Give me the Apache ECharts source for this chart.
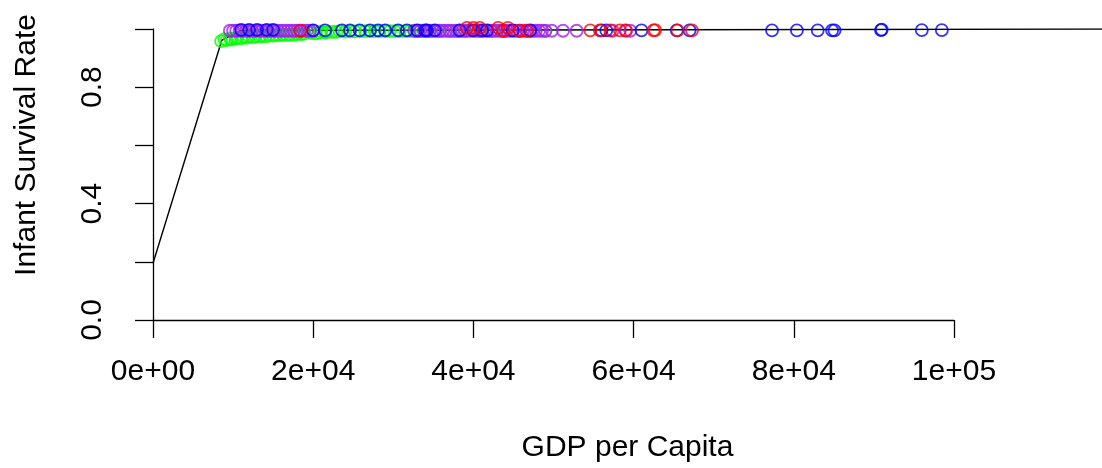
<!DOCTYPE html>
<html>
<head>
<meta charset="utf-8">
<script src="https://cdn.jsdelivr.net/npm/echarts@6/dist/echarts.min.js"></script>
<style>html,body{margin:0;padding:0;background:#fff}#c{width:1102px;height:468px}</style>
</head>
<body>
<div id="c"></div>
<script>
// ---- data (estimated) ----
var xTickLabels = ['0e+00', '2e+04', '4e+04', '6e+04', '8e+04', '1e+05'];
var yTickLabels = ['0.0', '', '0.4', '', '0.8', ''];

// fitted line
var curveX = [0, 8600, 11000, 118500];
var curveY = [0.195, 0.962, 0.995, 1.0];

// green group
var greenX = [8500, 8900, 9200, 9600, 9800, 10300, 10500, 11000, 11300, 11700, 12000, 12500, 12800, 13300, 13600, 14100, 14500, 15000, 15300, 15800, 16200, 16700, 17100, 17600, 18000, 18500, 18900, 19500, 19800, 20300, 20800, 21000, 21500, 21800, 22400, 22900, 23300, 24000, 24600, 25200, 25900, 26500, 27100, 27700, 28300, 29000, 29600, 30200, 30800, 31500, 32100, 32700, 33300, 34000, 34600, 35800, 37100, 38000, 39000, 40800, 42300, 43900, 45800, 47100, 49000];
var greenY = [0.958, 0.965, 0.962, 0.968, 0.964, 0.966, 0.970, 0.968, 0.972, 0.970, 0.974, 0.972, 0.975, 0.974, 0.976, 0.975, 0.978, 0.977, 0.979, 0.978, 0.980, 0.979, 0.981, 0.980, 0.983, 0.982, 0.984, 0.990, 0.986, 0.985, 0.987, 0.992, 0.988, 0.989, 0.990, 0.990, 0.993, 0.991, 0.992, 0.992, 0.993, 0.993, 0.993, 0.993, 0.993, 0.993, 0.993, 0.993, 0.993, 0.993, 0.993, 0.993, 0.993, 0.993, 0.993, 0.993, 0.993, 0.993, 0.993, 0.993, 0.993, 0.993, 0.993, 0.993, 0.993];

// purple group
var purpleX = [9600, 10000, 10400, 10800, 11200, 11600, 12000, 12400, 12800, 13200, 13600, 14000, 14400, 14800, 15200, 15600, 16000, 16400, 16800, 17200, 17600, 18000, 18400, 18800, 19200, 19600, 20000, 32600, 33000, 33400, 33800, 34200, 34600, 35000, 35400, 35800, 36200, 36600, 37000, 37400, 37800, 38200, 38600, 39000, 39400, 39800, 40200, 40600, 41000, 41400, 41800, 42200, 42600, 43000, 43400, 43800, 44200, 44600, 45000, 45400, 45800, 46200, 46600, 47000, 47400, 47800, 48200, 48600, 49000, 49800, 51200, 52900, 57400, 59100, 59600];
var purpleY = [0.994, 0.994, 0.994, 0.994, 0.994, 0.994, 0.994, 0.994, 0.994, 0.994, 0.994, 0.994, 0.994, 0.994, 0.994, 0.994, 0.994, 0.994, 0.994, 0.994, 0.994, 0.994, 0.994, 0.994, 0.994, 0.994, 0.994, 0.994, 0.994, 0.994, 0.994, 0.994, 0.994, 0.994, 0.994, 0.994, 0.994, 0.994, 0.994, 0.994, 0.994, 0.994, 0.994, 0.994, 0.994, 0.994, 0.994, 0.994, 0.994, 0.994, 0.994, 0.994, 0.994, 0.994, 0.994, 0.994, 0.994, 0.994, 0.994, 0.994, 0.994, 0.994, 0.994, 0.994, 0.994, 0.994, 0.994, 0.994, 0.994, 0.994, 0.994, 0.994, 0.994, 0.994, 0.994];

// blue group
var blueX = [11000, 12000, 13000, 14200, 15000, 20000, 21500, 23600, 24600, 25800, 27100, 28100, 29000, 30600, 31700, 33000, 34000, 34200, 35200, 38300, 40000, 41100, 41700, 44900, 47100, 56000, 56600, 61000, 65400, 67000, 77300, 80400, 83000, 84800, 85100, 90900, 91000, 96000, 98500];
var blueY = [0.997, 0.997, 0.997, 0.997, 0.997, 0.995, 0.995, 0.995, 0.995, 0.995, 0.995, 0.995, 0.995, 0.995, 0.995, 0.995, 0.995, 0.995, 0.995, 0.995, 0.995, 0.995, 0.995, 0.995, 0.995, 0.995, 0.995, 0.995, 0.995, 0.995, 0.995, 0.995, 0.995, 0.995, 0.995, 0.996, 0.998, 0.996, 0.996];

// red group
var redX = [18400, 39200, 40000, 40800, 43100, 43700, 44300, 45800, 46700, 54600, 55800, 57100, 58300, 59000, 62500, 62700, 65500, 67300];
var redY = [0.994, 1.004, 1.004, 1.004, 1.004, 0.994, 1.004, 0.994, 0.994, 0.995, 0.995, 0.995, 0.995, 0.995, 0.995, 0.996, 0.995, 0.995];

function zip(a, b) { return a.map(function (v, i) { return [v, b[i]]; }); }

var FONT = 'Liberation Sans';
var FS = 30;

function scatter(name, xs, ys, color) {
  return {
    name: name, type: 'scatter', xAxisIndex: 0, yAxisIndex: 0,
    data: zip(xs, ys), symbol: 'circle', symbolSize: 12, clip: false,
    itemStyle: { color: 'rgba(0,0,0,0)', borderColor: color, borderWidth: 1.8 },
    emphasis: { disabled: true }
  };
}

var chart = echarts.init(document.getElementById('c'), null, { renderer: 'canvas' });
chart.setOption({
  animation: false,
  backgroundColor: '#ffffff',
  grid: [
    { left: 153, right: 0, top: 29, bottom: 148 },
    { left: 153, width: 801, top: 29, bottom: 148 }
  ],
  xAxis: [
    {
      gridIndex: 0, type: 'value', min: 0, max: 118500,
      axisLine: { show: false }, axisTick: { show: false }, axisLabel: { show: false }, splitLine: { show: false },
      name: 'GDP per Capita', nameLocation: 'middle', nameGap: 113,
      nameTextStyle: { fontFamily: FONT, fontSize: FS, color: '#000' }
    },
    {
      gridIndex: 1, type: 'value', min: 0, max: 100000, interval: 20000,
      axisLine: { show: true, lineStyle: { color: '#000', width: 1.3 } },
      axisTick: { show: true, length: 18, lineStyle: { color: '#000', width: 1.3 } },
      axisLabel: {
        margin: 37, fontFamily: FONT, fontSize: FS, color: '#000',
        formatter: function (v) { return xTickLabels[Math.round(v / 20000)]; }
      },
      splitLine: { show: false }
    }
  ],
  yAxis: [
    {
      gridIndex: 0, type: 'value', min: 0, max: 1, interval: 0.2,
      axisLine: { show: true, lineStyle: { color: '#000', width: 1.3 } },
      axisTick: { show: true, length: 18, lineStyle: { color: '#000', width: 1.3 } },
      axisLabel: {
        rotate: 90, margin: 45, fontFamily: FONT, fontSize: FS, color: '#000',
        formatter: function (v) { return yTickLabels[Math.round(v / 0.2)]; }
      },
      splitLine: { show: false }
    },
    { gridIndex: 1, type: 'value', min: 0, max: 1, show: false }
  ],
  graphic: [{
    type: 'text', x: 27, y: 145, rotation: Math.PI / 2,
    style: { text: 'Infant Survival Rate', fontFamily: FONT, fontSize: FS, fill: '#000', align: 'center', verticalAlign: 'middle' }
  }],
  series: [
    {
      type: 'line', xAxisIndex: 0, yAxisIndex: 0, data: zip(curveX, curveY),
      symbol: 'none', lineStyle: { color: '#000', width: 1.4 }, silent: true, z: 1
    },
    scatter('green', greenX, greenY, '#00FF00'),
    scatter('purple', purpleX, purpleY, '#A020F0'),
    scatter('blue', blueX, blueY, '#0000FF'),
    scatter('red', redX, redY, '#FF0000')
  ]
});
</script>
</body>
</html>
